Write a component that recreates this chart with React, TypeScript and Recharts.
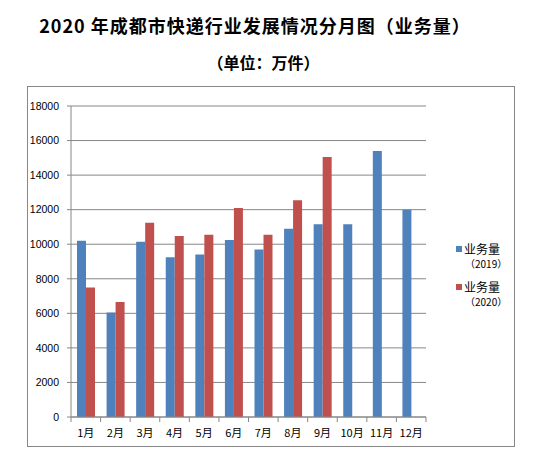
import { BarChart, Bar, XAxis, YAxis, CartesianGrid } from 'recharts';

const months = ['1月', '2月', '3月', '4月', '5月', '6月', '7月', '8月', '9月', '10月', '11月', '12月'];
const volume2019 = [10200, 6050, 10150, 9250, 9400, 10250, 9700, 10900, 11150, 11150, 15400, 12000];
const volume2020 = [7500, 6650, 11250, 10480, 10550, 12100, 10550, 12550, 15050, null, null, null];
const yTicks = [0, 2000, 4000, 6000, 8000, 10000, 12000, 14000, 16000, 18000];
const legendItems = [
  { name: '业务量', year: '（2019）', color: '#4F81BD' },
  { name: '业务量', year: '（2020）', color: '#C0504D' },
];

const data = months.map((m, i) => ({ month: m, v2019: volume2019[i], v2020: volume2020[i] }));

const GRID = '#878787';
const CJK = '"Noto Sans CJK SC", "Liberation Sans", sans-serif';

const PLOT_LEFT = 71;
const PLOT_RIGHT = 426;
const BAND = (PLOT_RIGHT - PLOT_LEFT) / months.length;

function MonthTick(props: any) {
  const { x, y, payload, index } = props;
  const left = x - BAND / 2;
  return (
    <g>
      <line x1={left} y1={y - 8} x2={left} y2={y - 3} stroke={GRID} />
      {index === months.length - 1 && (
        <line x1={x + BAND / 2} y1={y - 8} x2={x + BAND / 2} y2={y - 3} stroke={GRID} />
      )}
      <text x={x} y={y + 12} textAnchor="middle" fontSize={11} fill="#000" fontFamily={CJK}>
        {payload.value}
      </text>
    </g>
  );
}

export default function App() {
  return (
    <div style={{ position: 'absolute', left: 0, top: 0, width: 545, height: 466, background: '#fff' }}>
      <div
        style={{
          position: 'absolute', left: 0, top: 12, width: 510, textAlign: 'center',
          fontFamily: CJK, fontWeight: 'bold', fontSize: 18, letterSpacing: 1, color: '#000', lineHeight: '26px',
        }}
      >
        2020 年成都市快递行业发展情况分月图（业务量）
      </div>
      <div
        style={{
          position: 'absolute', left: 0, top: 49, width: 527, textAlign: 'center',
          fontFamily: CJK, fontWeight: 'bold', fontSize: 16, color: '#000', lineHeight: '26px',
        }}
      >
        （单位：万件）
      </div>
      <div
        style={{
          position: 'absolute', left: 27, top: 86, width: 486, height: 359,
          border: `1px solid ${GRID}`,
        }}
      />
      <div style={{ position: 'absolute', left: 0, top: 0 }}>
        <BarChart
          width={545}
          height={466}
          data={data}
          margin={{ top: 106, right: 545 - PLOT_RIGHT, bottom: 466 - 417 - 30, left: 0 }}
          barSize={9}
          barGap={0}
        >
          <CartesianGrid vertical={false} stroke={GRID} />
          <XAxis
            dataKey="month"
            stroke={GRID}
            tickLine={false}
            height={30}
            interval={0}
            tick={<MonthTick />}
          />
          <YAxis
            width={PLOT_LEFT}
            domain={[0, 18000]}
            ticks={yTicks}
            interval={0}
            stroke={GRID}
            tickSize={4}
            tickMargin={8}
            tick={{ fill: '#000', fontSize: 10.5, fontFamily: '"Liberation Sans", sans-serif' }}
          />
          <Bar dataKey="v2019" fill={legendItems[0].color} isAnimationActive={false} />
          <Bar dataKey="v2020" fill={legendItems[1].color} isAnimationActive={false} />
        </BarChart>
      </div>
      {legendItems.map((it, i) => (
        <div
          key={i}
          style={{ position: 'absolute', left: 456, top: 241 + i * 38, fontFamily: CJK, color: '#000' }}
        >
          <div style={{ display: 'flex', alignItems: 'center', height: 16 }}>
            <span style={{ width: 6, height: 6, background: it.color, display: 'inline-block', marginRight: 2 }} />
            <span style={{ fontSize: 12, lineHeight: '16px' }}>{it.name}</span>
          </div>
          <div style={{ fontSize: 10, lineHeight: '12px', marginTop: 1, paddingLeft: 9 }}>{it.year}</div>
        </div>
      ))}
    </div>
  );
}
